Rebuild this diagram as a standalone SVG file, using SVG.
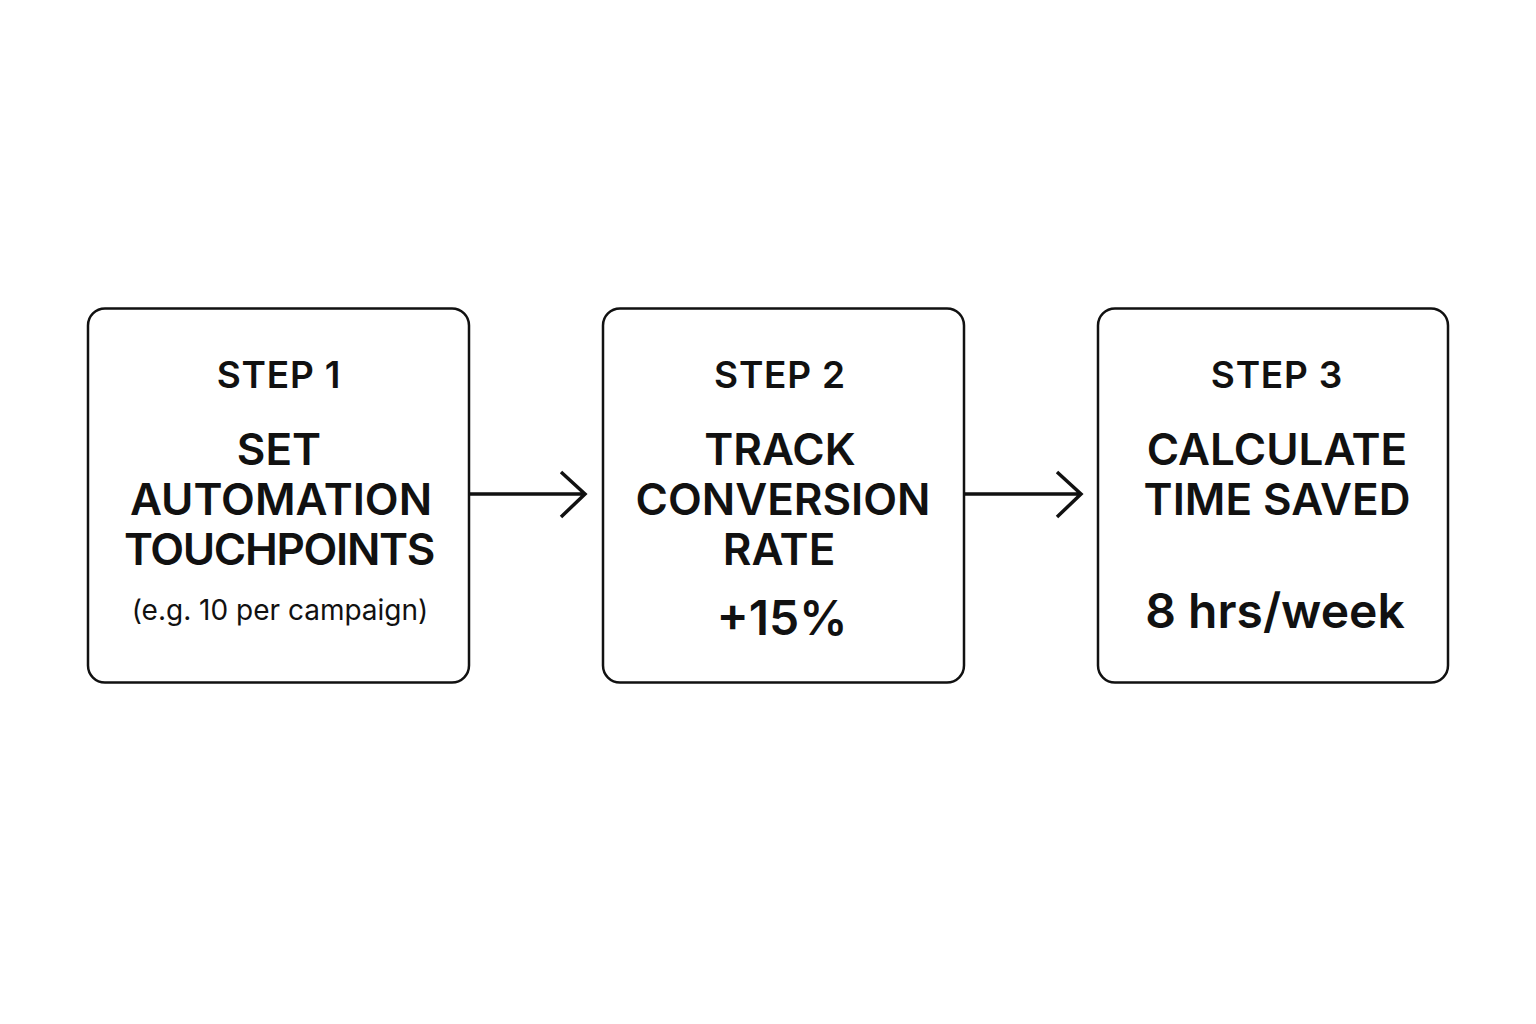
<svg xmlns="http://www.w3.org/2000/svg" width="1536" height="1024" viewBox="0 0 1536 1024">
<style>
.box{fill:#fff;stroke:#111;stroke-width:2.5}
.step{font-family:Inter,"Liberation Sans",Arial,sans-serif;font-weight:600;font-size:37px;letter-spacing:0.8px;fill:#111;text-anchor:middle}
.title{font-family:Inter,"Liberation Sans",Arial,sans-serif;font-weight:600;font-size:44px;fill:#111;text-anchor:middle}
.note{font-family:Inter,"Liberation Sans",Arial,sans-serif;font-weight:400;font-size:28px;fill:#111;text-anchor:middle}
.big{font-family:Inter,"Liberation Sans",Arial,sans-serif;font-weight:600;font-size:48px;fill:#111;text-anchor:middle}
.conn{fill:none;stroke:#111;stroke-width:3.5;stroke-linecap:butt;stroke-linejoin:miter}
</style>
<rect width="1536" height="1024" fill="#fff"/>
<g id="connectors">
<path class="conn" d="M470 494 H585 M561 472 L585 494 L561 517"/>
<path class="conn" d="M965 494 H1081 M1057 472 L1081 494 L1057 517"/>
</g>
<g id="step1">
<rect class="box" x="88" y="308.5" width="381" height="374" rx="17"/>
<text class="step" x="279" y="388">STEP 1</text>
<text class="title" x="279" y="465">SET</text>
<text class="title" x="281" y="515">AUTOMATION</text>
<text class="title" x="279" y="565" style="letter-spacing:-1.3px">TOUCHPOINTS</text>
<text class="note" x="280" y="620">(e.g. 10 per campaign)</text>
</g>
<g id="step2">
<rect class="box" x="603" y="308.5" width="361" height="374" rx="17"/>
<text class="step" x="780" y="388">STEP 2</text>
<text class="title" x="780" y="465">TRACK</text>
<text class="title" x="783" y="515">CONVERSION</text>
<text class="title" x="779" y="565">RATE</text>
<text class="big" x="782" y="635">+15%</text>
</g>
<g id="step3">
<rect class="box" x="1098" y="308.5" width="350" height="374" rx="17"/>
<text class="step" x="1277" y="388">STEP 3</text>
<text class="title" x="1277" y="465">CALCULATE</text>
<text class="title" x="1277" y="515">TIME SAVED</text>
<text class="big" x="1275" y="628">8 hrs/week</text>
</g>
</svg>
